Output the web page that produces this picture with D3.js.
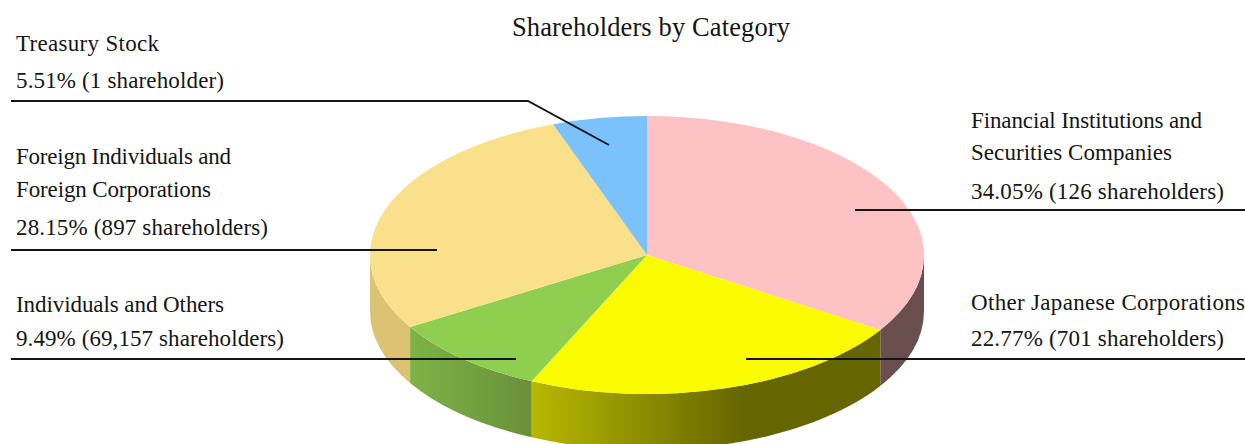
<!DOCTYPE html>
<html lang="en">
    <head>
        <meta charset="utf-8">
        <title>Shareholders by Category</title>
        <script src="https://d3js.org/d3.v7.min.js"></script>
        <style type="text/css">
            body { margin: 0; background: #fff; }
            text { font-family: "Liberation Serif", serif; fill: #151515; }
            .leader { fill: none; stroke: #151515; stroke-width: 1.9px; }
        </style>
    </head>
    <body>
        <script type="text/javascript">

            //Data
            const categories = ["Financial Institutions and Securities Companies", "Other Japanese Corporations",
                                "Individuals and Others", "Foreign Individuals and Foreign Corporations", "Treasury Stock"];
            const percents = [34.05, 22.77, 9.49, 28.15, 5.51];
            const shareholders = ["126 shareholders", "701 shareholders", "69,157 shareholders", "897 shareholders", "1 shareholder"];
            const topColors = ["#fcc2c4", "#fbfb00", "#90ce4f", "#fbe08b", "#7bc2fd"];
            const sideLeft = ["#6a4f4f", "#b8b800", "#7db346", "#dcc374", "#7bc2fd"];
            const sideRight = ["#6a4f4f", "#666600", "#68903a", "#dcc374", "#7bc2fd"];

            //Declaring constants
            const w = 1245;
            const h = 444;
            const cx = 647;
            const cy = 255;
            const rx = 277;
            const ry = 139;
            const depth = 56;

            const svg = d3.select("body")
                    .append("svg")
                    .attr("width", w)
                    .attr("height", h)
                    .style("display", "block");

            const pie = d3.pie().sort(null).value(d => d);
            const slices = pie(percents);

            //maps a slice angle onto the tilted ellipse
            const ex = a => cx + rx * Math.sin(a);
            const ey = a => cy - ry * Math.cos(a);

            const defs = svg.append("defs");

            //side wall, only the front half of the ellipse is visible
            const front = [Math.PI / 2, Math.PI * 1.5];
            slices.forEach((s, i) => {
                const a0 = Math.max(s.startAngle, front[0]);
                const a1 = Math.min(s.endAngle, front[1]);
                if (a0 >= a1) return;

                //the walls fade from left to right, ending on the darker colour
                const x0 = ex(a1), x1 = ex(a0);
                const grad = defs.append("linearGradient")
                    .attr("id", "side" + i)
                    .attr("gradientUnits", "userSpaceOnUse")
                    .attr("x1", x0).attr("x2", i == 1 ? x0 + (x1 - x0) * 0.6 : x1)
                    .attr("y1", 0).attr("y2", 0);
                grad.append("stop").attr("offset", 0).attr("stop-color", sideLeft[i]);
                grad.append("stop").attr("offset", 1).attr("stop-color", sideRight[i]);

                const d = "M" + ex(a0) + "," + ey(a0)
                    + "A" + rx + "," + ry + " 0 0 1 " + ex(a1) + "," + ey(a1)
                    + "L" + ex(a1) + "," + (ey(a1) + depth)
                    + "A" + rx + "," + ry + " 0 0 0 " + ex(a0) + "," + (ey(a0) + depth) + "Z";
                svg.append("path").attr("d", d).attr("fill", "url(#side" + i + ")");
            });

            //top of the pie, a flat d3 arc squashed vertically
            const arc = d3.arc().innerRadius(0).outerRadius(rx);
            svg.append("g")
                .attr("transform", "translate(" + cx + "," + cy + ") scale(1," + (ry / rx) + ")")
                .selectAll("path")
                .data(slices)
                .join("path")
                .attr("d", arc)
                .attr("fill", (d, i) => topColors[i]);

            //leader lines
            const leaders = [
                [[855, 210], [1245, 210]],
                [[746, 359], [1245, 359]],
                [[516, 359], [11, 359]],
                [[437, 250], [11, 250]],
                [[609, 145], [528, 101], [11, 101]]
            ];
            const line = d3.line();
            svg.selectAll(".leader")
                .data(leaders)
                .join("path")
                .attr("class", "leader")
                .attr("d", line);

            //labels, stretched to the widths measured on the original
            const labelText = (x, y, t, width, size) => svg.append("text")
                .attr("x", x)
                .attr("y", y)
                .attr("font-size", size || "23px")
                .attr("textLength", width)
                .attr("lengthAdjust", "spacing")
                .text(t);

            const pct = i => percents[i].toFixed(2) + "% (" + shareholders[i] + ")";

            labelText(512, 36, "Shareholders by Category", 278, "26.5px");

            labelText(16, 51, categories[4], 143);
            labelText(16, 88, pct(4), 208);

            labelText(16, 164, "Foreign Individuals and", 215);
            labelText(16, 197, "Foreign Corporations", 195);
            labelText(16, 235, pct(3), 252);

            labelText(16, 312, categories[2], 208);
            labelText(16, 346, pct(2), 268);

            labelText(971, 128, "Financial Institutions and", 231);
            labelText(971, 160, "Securities Companies", 201);
            labelText(971, 199, pct(0), 253);

            labelText(971, 310, categories[1], 274);
            labelText(971, 346, pct(1), 253);

        </script>
    </body>
</html>
